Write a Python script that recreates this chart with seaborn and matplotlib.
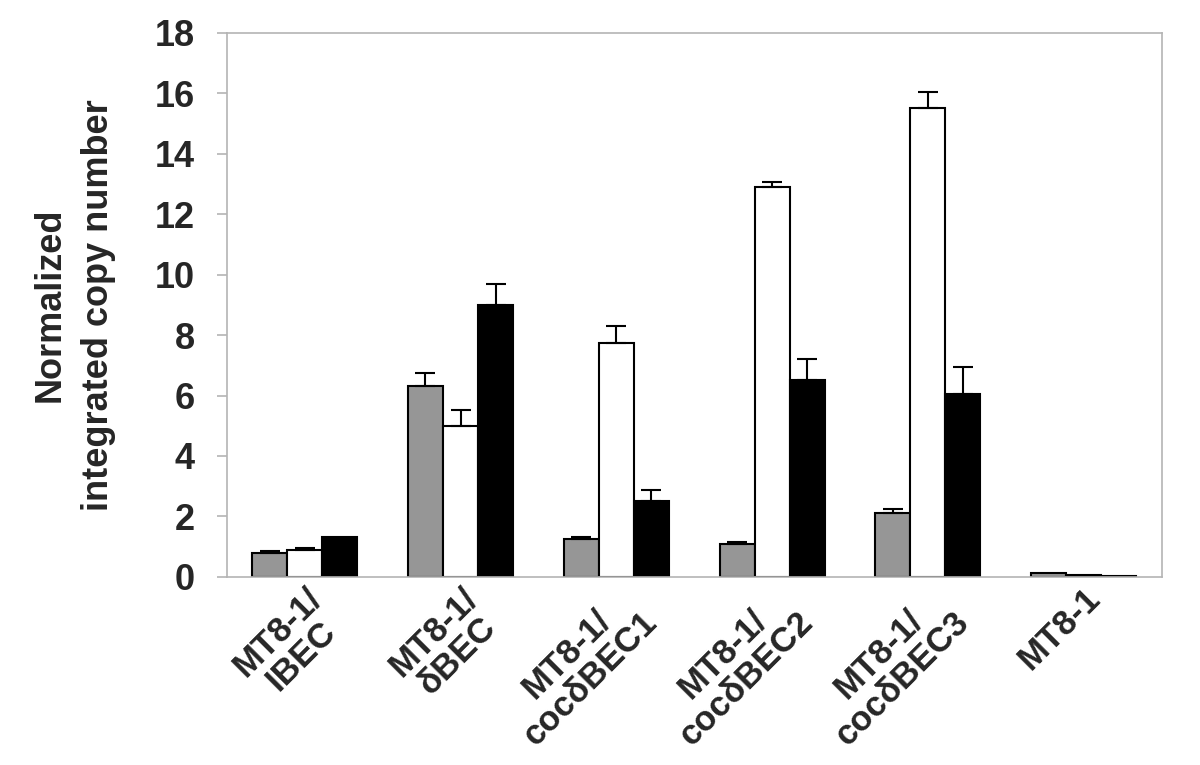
import numpy as np
import pandas as pd
import matplotlib
matplotlib.use("Agg")
import matplotlib.pyplot as plt
import seaborn as sns

# data
groups = ["MT8-1/\nIBEC", "MT8-1/\nδBEC", "MT8-1/\ncocδBEC1",
          "MT8-1/\ncocδBEC2", "MT8-1/\ncocδBEC3", "MT8-1"]
series = ["gray", "white", "black"]
gray_vals = [0.78, 6.30, 1.25, 1.10, 2.12, 0.12]
white_vals = [0.90, 5.00, 7.75, 12.90, 15.50, 0.06]
black_vals = [1.33, 9.00, 2.50, 6.50, 6.05, 0.02]
gray_err = [0.07, 0.45, 0.06, 0.06, 0.13, 0.0]
white_err = [0.06, 0.52, 0.55, 0.17, 0.55, 0.0]
black_err = [0.0, 0.70, 0.38, 0.70, 0.90, 0.0]

df = pd.DataFrame({
    "group": groups * 3,
    "series": np.repeat(series, len(groups)),
    "value": gray_vals + white_vals + black_vals,
    "err": gray_err + white_err + black_err,
})

sns.set_style("white")
plt.rcParams["font.family"] = ["Liberation Sans", "DejaVu Sans"]
plt.rcParams["font.weight"] = "bold"

fig = plt.figure(figsize=(12, 7.65), dpi=100)
ax = fig.add_axes([0.189, 0.246, 0.779, 0.711])

palette = {"gray": "#969696", "white": "#ffffff", "black": "#000000"}
sns.barplot(data=df, x="group", y="value", hue="series", order=groups,
            hue_order=series, palette=palette, width=0.675, errorbar=None,
            edgecolor="black", linewidth=1.5, legend=False, ax=ax, saturation=1)

# one-sided error bars on top of each bar
for s, cont in zip(series, ax.containers):
    sub = df[df["series"] == s].set_index("group").loc[groups]
    xs = [p.get_x() + p.get_width() / 2 for p in cont.patches]
    mask = sub["err"].values > 0
    ax.errorbar(np.array(xs)[mask], sub["value"].values[mask],
                yerr=[np.zeros(mask.sum()), sub["err"].values[mask]],
                fmt="none", ecolor="black", elinewidth=1.5, capsize=7,
                capthick=1.5, zorder=1)

ax.set_ylim(0, 18)
ax.set_yticks(range(0, 19, 2))
ax.set_xlim(-0.5, len(groups) - 0.5)
ax.set_xlabel("")
ax.set_ylabel("Normalized\nintegrated copy number", fontsize=26,
              fontweight="bold", labelpad=28, linespacing=1.5)

for sp in ax.spines.values():
    sp.set_visible(True)
    sp.set_color("#b4b4b4")
    sp.set_linewidth(1.2)

ax.tick_params(axis="y", which="major", direction="out", length=7,
               color="#b4b4b4", width=1.2, labelsize=26, pad=16, left=True)
ax.tick_params(axis="x", length=0, pad=3)
ax.set_xticks(range(len(groups)))
ax.set_xticklabels(groups, rotation=45, ha="right", va="top",
                   rotation_mode="anchor", multialignment="center",
                   linespacing=1.05, fontweight="bold", fontsize=25)
for lab in ax.get_yticklabels():
    lab.set_fontweight("bold")

fig.savefig("out.png", dpi=100)
